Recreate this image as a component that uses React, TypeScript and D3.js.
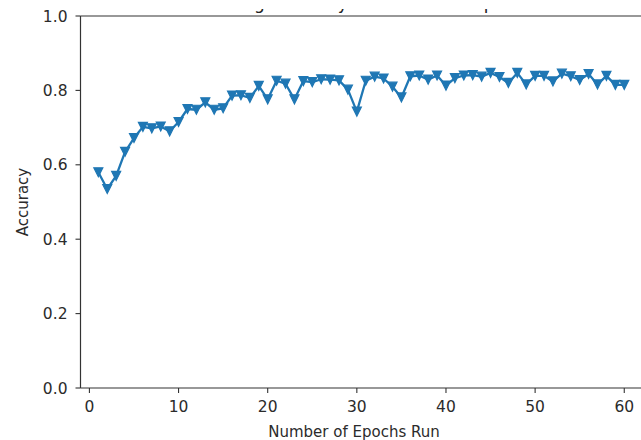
import React from "react";
import * as d3 from "d3";

const epochs = [
  1, 2, 3, 4, 5, 6, 7, 8, 9, 10, 11, 12, 13, 14, 15, 16, 17, 18, 19, 20,
  21, 22, 23, 24, 25, 26, 27, 28, 29, 30, 31, 32, 33, 34, 35, 36, 37, 38, 39, 40,
  41, 42, 43, 44, 45, 46, 47, 48, 49, 50, 51, 52, 53, 54, 55, 56, 57, 58, 59, 60,
];
const accuracy = [
  0.58, 0.535, 0.57, 0.635, 0.672, 0.702, 0.698, 0.703, 0.69, 0.715,
  0.75, 0.748, 0.768, 0.748, 0.752, 0.786, 0.787, 0.78, 0.812, 0.776,
  0.826, 0.818, 0.776, 0.825, 0.822, 0.83, 0.829, 0.827, 0.802, 0.743,
  0.826, 0.837, 0.832, 0.81, 0.781, 0.838, 0.84, 0.829, 0.84, 0.813,
  0.833, 0.84, 0.841, 0.837, 0.847, 0.836, 0.82, 0.847, 0.816, 0.839,
  0.839, 0.824, 0.845, 0.838, 0.828, 0.844, 0.816, 0.839, 0.815, 0.815,
];
const xTicks = [0, 10, 20, 30, 40, 50, 60];
const yTicks = [0, 0.2, 0.4, 0.6, 0.8, 1.0];
const titleText = "Training Accuracy vs Number of Epochs";
const xLabel = "Number of Epochs Run";
const yLabel = "Accuracy";

const W = 641;
const H = 440;
const left = 80.5;
const top = 16;
const bottom = 388;
const right = 651;
const color = "#1f77b4";
const spine = "#333333";
const textColor = "#2b2b2b";
const font = "'DejaVu Sans', sans-serif";

export default function App() {
  const x = d3.scaleLinear().domain([-1, 63]).range([left, right]);
  const y = d3.scaleLinear().domain([0, 1]).range([bottom, top]);
  const data = epochs.map((e, i) => [e, accuracy[i]] as [number, number]);
  const line = d3
    .line<[number, number]>()
    .x((d) => x(d[0]))
    .y((d) => y(d[1]));
  const h = 4.5;
  const marker = `M${-h},${-h}L${h},${-h}L0,${h}Z`;
  const axCenter = (left + right) / 2;

  return (
    <svg
      width={W}
      height={H}
      style={{ position: "absolute", left: 0, top: 0, background: "#fff" }}
      fontFamily={font}
    >
      <rect x={0} y={0} width={W} height={H} fill="#fff" />
      <defs>
        <clipPath id="titleClip">
          <rect x={0} y={9} width={W} height={7} />
        </clipPath>
      </defs>
      <g clipPath="url(#titleClip)">
        <text x={axCenter} y={9} textAnchor="middle" fontSize={17} fill="#222">
          {titleText}
        </text>
      </g>

      <path
        d={line(data) || ""}
        fill="none"
        stroke={color}
        strokeWidth={2.3}
        strokeLinejoin="round"
      />
      {data.map((d, i) => (
        <path
          key={i}
          d={marker}
          transform={`translate(${x(d[0])},${y(d[1])})`}
          fill={color}
          stroke={color}
          strokeWidth={1.2}
          strokeLinejoin="miter"
        />
      ))}

      {/* spines */}
      <line x1={left} x2={left} y1={top} y2={bottom} stroke={spine} strokeWidth={1.2} />
      <line x1={left} x2={right} y1={bottom} y2={bottom} stroke={spine} strokeWidth={1.2} />
      <line x1={left} x2={right} y1={top} y2={top} stroke={spine} strokeWidth={1.2} />
      <line x1={right} x2={right} y1={top} y2={bottom} stroke={spine} strokeWidth={1.2} />

      {/* x ticks */}
      {xTicks.map((t) => (
        <g key={t} transform={`translate(${x(t)},${bottom})`}>
          <line y1={0} y2={5} stroke={spine} strokeWidth={1.1} />
          <text y={24} textAnchor="middle" fontSize={15.5} fill={textColor}>
            {t}
          </text>
        </g>
      ))}
      {/* y ticks */}
      {yTicks.map((t) => (
        <g key={t} transform={`translate(${left},${y(t)})`}>
          <line x1={0} x2={-5} stroke={spine} strokeWidth={1.1} />
          <text x={-13} dy="0.36em" textAnchor="end" fontSize={15.5} fill={textColor}>
            {t.toFixed(1)}
          </text>
        </g>
      ))}

      <text x={354} y={437} textAnchor="middle" fontSize={15} fill={textColor}>
        {xLabel}
      </text>
      <text
        transform={`translate(28,${(top + bottom) / 2}) rotate(-90)`}
        textAnchor="middle"
        fontSize={15}
        fill={textColor}
      >
        {yLabel}
      </text>
    </svg>
  );
}
